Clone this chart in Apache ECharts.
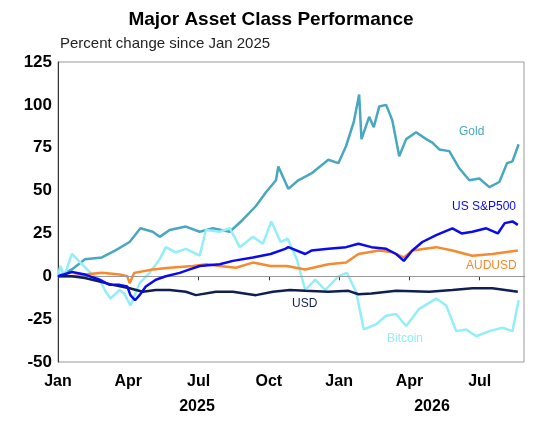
<!DOCTYPE html>
<html><head><meta charset="utf-8">
<script src="https://cdn.jsdelivr.net/npm/echarts@6/dist/echarts.min.js"></script>
<style>html,body{margin:0;padding:0;background:#fff}#c{width:542px;height:422px}</style>
</head><body><div id="c"></div>
<script>
// x = days since 1 Jan 2025, y = percent change
const monthTicks = ['Jan','Apr','Jul','Oct','Jan','Apr','Jul'];
const yearLabels = ['2025','2026'];
const gold = [[0,0],[18,4],[35,10],[57,11],[74,15],[93,20],[107,28],[123,26],[132,23],[145,27],[166,29],[184,26],[201,28],[223,26],[240,33],[257,41],[270,49],[283,56],[286,64],[299,51],[312,56],[329,60],[351,68],[364,66],[374,76],[384,90],[391,106],[394,80],[404,93],[410,87],[417,99],[426,100],[434,91],[443,70],[452,80],[465,84],[478,80],[486,78],[495,74],[508,73],[521,63],[534,56],[547,57],[560,52],[573,55],[583,66],[590,67],[598,77]];
const bitcoin = [[0,0],[3,6],[8,0],[18,13],[27,9],[40,3],[54,-2],[62,-9],[68,-13],[80,-8],[86,-10],[94,-17],[106,-4],[119,2],[132,10],[140,17],[153,14],[166,16],[184,12],[192,27],[210,26],[223,28],[236,17],[253,23],[266,19],[277,32],[289,20],[291,20],[298,22],[310,10],[321,-8],[334,-2],[347,-8],[364,0],[375,2],[387,-9],[397,-31],[413,-28],[426,-23],[439,-22],[452,-29],[469,-19],[491,-13],[504,-17],[517,-32],[530,-31],[543,-35],[560,-32],[577,-30],[590,-32],[598,-14]];
const sp500 = [[0,0],[18,2.5],[35,1],[54,-2],[67,-5],[80,-5],[90,-6],[94,-11],[100,-14],[106,-11],[114,-6],[127,-2],[140,0],[158,2],[171,4],[184,6],[210,7],[227,9],[253,11],[276,13],[295,16],[299,17],[321,13],[329,15],[351,16],[374,17],[390,19],[407,17],[426,16],[439,13],[449,9],[460,15],[473,20],[491,24],[512,28],[524,25],[538,26],[556,28],[571,25],[580,31],[590,32],[597,30]];
const audusd = [[0,0],[18,0],[35,1],[57,2],[80,1],[90,0],[93,-4],[99,2],[123,4],[145,5],[175,6],[193,7],[210,6],[231,5],[253,8],[276,6],[297,6],[299,5],[321,4],[351,7],[374,8],[390,13],[417,15],[434,14],[449,11],[460,15],[491,17],[512,15],[538,12],[564,13],[597,15]];
const usd = [[0,0],[18,0],[35,-1],[54,-3],[71,-5],[93,-7],[110,-9],[127,-8],[145,-8],[166,-9],[179,-11],[205,-9],[227,-9],[257,-11],[279,-9],[301,-8],[321,-8.5],[351,-9],[377,-8.5],[390,-10.5],[407,-10],[439,-8.5],[482,-9],[512,-8],[538,-7],[564,-7],[597,-9]];
const seriesNames = ['Gold','Bitcoin','AUDUSD','USD','US S&P500'];
const seriesData = [gold, bitcoin, audusd, usd, sp500];
const colors = ['#49a7bf','#93eef7','#f7892e','#0f1f52','#0a0aee'];

const chart = echarts.init(document.getElementById('c'));
chart.setOption({
  animation:false,
  title:[{text:'Major Asset Class Performance',left:'center',top:5,textStyle:{fontFamily:'Arial, Liberation Sans',fontSize:19,fontWeight:'bold',color:'#000'}},
         {text:'Percent change since Jan 2025',left:55,top:31,textStyle:{fontFamily:'Arial, Liberation Sans',fontSize:15,fontWeight:'normal',color:'#222'}}],
  grid:{left:58,right:18,top:62,bottom:60},
  xAxis:{type:'value',min:0,max:605,interval:91.25,
    axisLine:{show:true,lineStyle:{color:'#333'}},axisTick:{show:true,length:4,lineStyle:{color:'#333'}},
    splitLine:{show:false},
    axisLabel:{formatter:(v)=>{const i=Math.round(v/91.25);return monthTicks[i]||'';},fontFamily:'Arial, Liberation Sans',fontSize:16,fontWeight:'bold',color:'#000',margin:12,showMaxLabel:false}},
  yAxis:{type:'value',min:-50,max:125,interval:25,
    axisLine:{show:true,lineStyle:{color:'#333'}},axisTick:{show:false},
    splitLine:{show:false},
    axisLabel:{fontFamily:'Arial, Liberation Sans',fontSize:17,fontWeight:'bold',color:'#000',margin:6}},
  graphic:[
    {type:'rect',shape:{x:58,y:62,width:466,height:300},style:{fill:'none',stroke:'#999',lineWidth:1},silent:true,z:-1},
    {type:'text',x:197,y:399,style:{text:yearLabels[0],fontFamily:'Arial, Liberation Sans',fontSize:16,fontWeight:'bold',fill:'#000',align:'center'}},
    {type:'text',x:432,y:399,style:{text:yearLabels[1],fontFamily:'Arial, Liberation Sans',fontSize:16,fontWeight:'bold',fill:'#000',align:'center'}},
    {type:'text',x:459,y:126,style:{text:'Gold',fontFamily:'Arial, Liberation Sans',fontSize:12,fill:colors[0]}},
    {type:'text',x:452,y:201,style:{text:'US S&P500',fontFamily:'Arial, Liberation Sans',fontSize:12,fill:colors[4]}},
    {type:'text',x:466,y:260,style:{text:'AUDUSD',fontFamily:'Arial, Liberation Sans',fontSize:12,fill:colors[2]}},
    {type:'text',x:292,y:298,style:{text:'USD',fontFamily:'Arial, Liberation Sans',fontSize:12,fill:colors[3]}},
    {type:'text',x:387,y:333,style:{text:'Bitcoin',fontFamily:'Arial, Liberation Sans',fontSize:12,fill:colors[1]}}
  ],
  series: seriesNames.map((n,i)=>({
    name:n,type:'line',data:seriesData[i],showSymbol:false,
    lineStyle:{color:colors[i],width:2.5},
    markLine: i===0 ? {silent:true,symbol:'none',label:{show:false},lineStyle:{color:'#999',type:'solid',width:1},data:[{yAxis:0}]} : undefined,
    z: i===0?1:2+i
  }))
});
</script></body></html>
